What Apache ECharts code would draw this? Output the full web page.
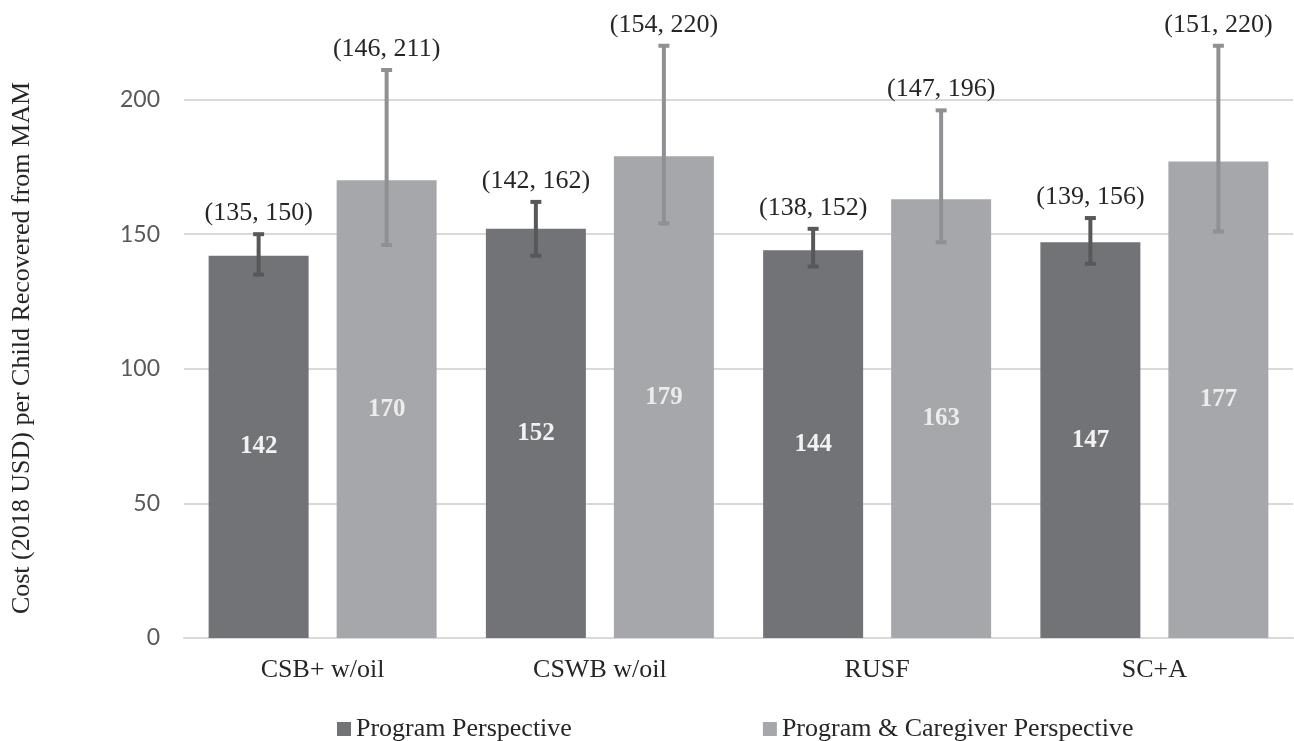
<!DOCTYPE html>
<html>
<head>
<meta charset="utf-8">
<title>Cost per child recovered from MAM</title>
<script src="https://cdn.jsdelivr.net/npm/echarts@6/dist/echarts.min.js"></script>
<style>
  html, body { margin: 0; padding: 0; background: #fff; }
  #chart { width: 1294px; height: 741px; }
</style>
</head>
<body>
<div id="chart"></div>
<script>
  // 数据
  var categories = ['CSB+ w/oil', 'CSWB w/oil', 'RUSF', 'SC+A']
  var programValues = [142, 152, 144, 147]
  var programLow = [135, 142, 138, 139]
  var programHigh = [150, 162, 152, 156]
  var caregiverValues = [170, 179, 163, 177]
  var caregiverLow = [146, 154, 147, 151]
  var caregiverHigh = [211, 220, 196, 220]
  var seriesNames = ['Program Perspective', 'Program & Caregiver Perspective']

  var serif = '"Liberation Serif", "Times New Roman", serif'
  var barWidth = 100
  var barGapPx = 28

  // error bar + "(low, high)" label, shifted to sit on its bar
  function errorBar(shift, color) {
    return function (params, api) {
      var idx = api.value(0)
      var top = api.coord([idx, api.value(2)])
      var bottom = api.coord([idx, api.value(1)])
      var x = top[0] + shift
      var cap = 5.5
      return {
        type: 'group',
        children: [
          { type: 'line', shape: { x1: x, y1: top[1], x2: x, y2: bottom[1] }, style: { stroke: color, lineWidth: 4 } },
          { type: 'line', shape: { x1: x - cap, y1: top[1], x2: x + cap, y2: top[1] }, style: { stroke: color, lineWidth: 4 } },
          { type: 'line', shape: { x1: x - cap, y1: bottom[1], x2: x + cap, y2: bottom[1] }, style: { stroke: color, lineWidth: 4 } },
          {
            type: 'text',
            x: x,
            y: top[1] - 21,
            style: {
              text: '(' + api.value(1) + ', ' + api.value(2) + ')',
              font: '26px ' + serif,
              fill: '#262626',
              align: 'center',
              verticalAlign: 'middle'
            }
          }
        ]
      }
    }
  }

  function errData(low, high) {
    var out = []
    for (var i = 0; i < low.length; i++) out.push([i, low[i], high[i]])
    return out
  }

  var shift = (barWidth + barGapPx) / 2
  var myChart = echarts.init(document.getElementById('chart'))
  var option = {
    animation: false,
    backgroundColor: '#ffffff',
    // top is negative on purpose: the 250 gridline sits above the picture
    grid: { left: 184, right: 1, top: -35, bottom: 103, outerBoundsMode: 'none', containLabel: false },
    legend: {
      data: seriesNames,
      left: 332,
      top: 711,
      icon: 'rect',
      itemWidth: 14,
      itemHeight: 14,
      itemGap: 191,
      textStyle: { fontFamily: serif, fontSize: 26, color: '#262626' }
    },
    graphic: [{
      type: 'text',
      x: 22,
      y: 348,
      rotation: Math.PI / 2,
      style: {
        text: 'Cost (2018 USD) per Child Recovered from MAM',
        font: '26px ' + serif,
        fill: '#262626',
        align: 'center',
        verticalAlign: 'middle'
      }
    }],
    xAxis: {
      type: 'category',
      data: categories,
      axisTick: { show: false },
      axisLine: { lineStyle: { color: '#d9d9d9', width: 2 } },
      axisLabel: { fontFamily: serif, fontSize: 26, color: '#262626', margin: 19 }
    },
    yAxis: {
      type: 'value',
      min: 0,
      max: 250,
      interval: 50,
      axisLine: { show: false },
      axisTick: { show: false },
      axisLabel: { fontFamily: 'Lato', fontSize: 23, color: '#595959', margin: 24, showMaxLabel: false },
      splitLine: { lineStyle: { color: '#d9d9d9', width: 2 } }
    },
    series: [
      {
        name: seriesNames[0],
        type: 'bar',
        barWidth: barWidth,
        barGap: (barGapPx / barWidth * 100) + '%',
        itemStyle: { color: '#727377' },
        label: {
          show: true,
          position: 'inside',
          fontFamily: serif,
          fontWeight: 'bold',
          fontSize: 25,
          color: '#f2f2f2'
        },
        data: programValues
      },
      {
        name: seriesNames[1],
        type: 'bar',
        barWidth: barWidth,
        itemStyle: { color: '#a6a7aa' },
        label: {
          show: true,
          position: 'inside',
          fontFamily: serif,
          fontWeight: 'bold',
          fontSize: 25,
          color: '#ececec'
        },
        data: caregiverValues
      },
      {
        type: 'custom',
        z: 10,
        renderItem: errorBar(-shift, '#58585b'),
        encode: { x: 0, y: [1, 2] },
        data: errData(programLow, programHigh)
      },
      {
        type: 'custom',
        z: 10,
        renderItem: errorBar(shift, '#8f9093'),
        encode: { x: 0, y: [1, 2] },
        data: errData(caregiverLow, caregiverHigh)
      }
    ]
  }
  myChart.setOption(option)
</script>
</body>
</html>
